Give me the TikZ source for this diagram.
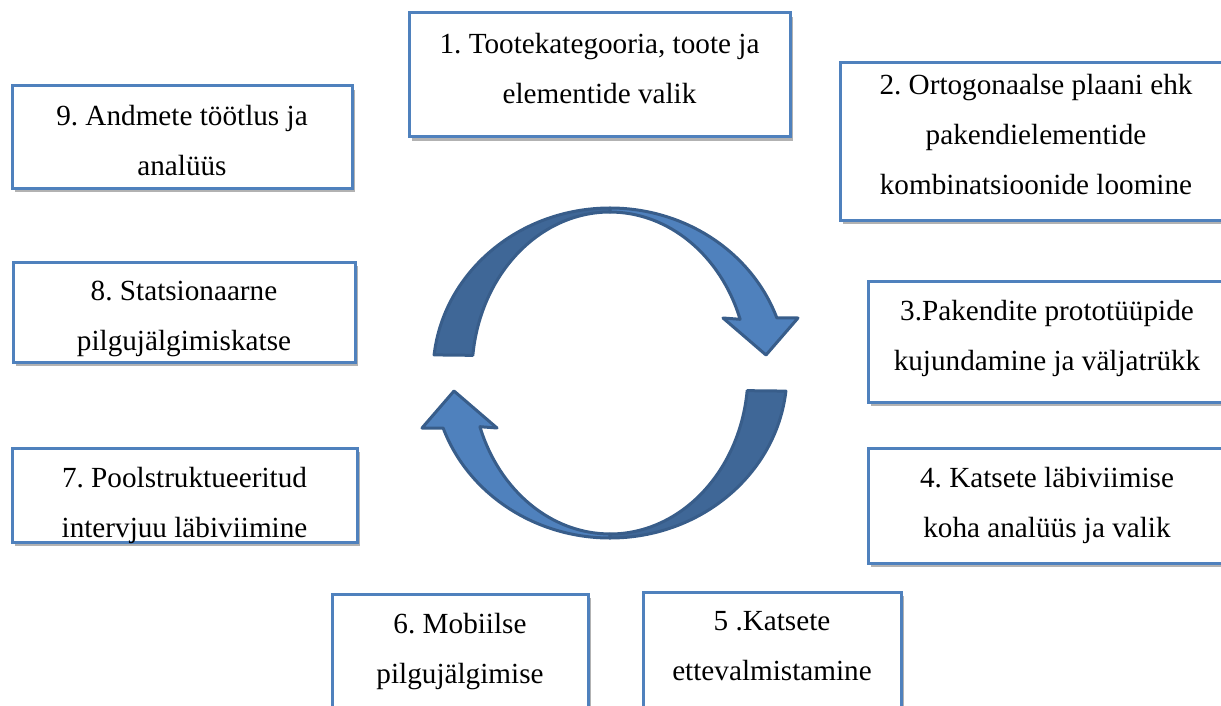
\documentclass[tikz,border=0pt]{standalone}
\usepackage{fontspec}
\setmainfont{Liberation Serif}
\usetikzlibrary{positioning,shadows}
\frenchspacing
\definecolor{boxblue}{HTML}{4F81BD}
\definecolor{arrowdark}{HTML}{3F6797}
\definecolor{arrowlight}{HTML}{4F81BD}
\definecolor{arrowline}{HTML}{385D8A}
\tikzset{
    stagebox/.style={
        draw=boxblue,
        line width=1.5pt,
        fill=white,
        inner sep=0pt,
        drop shadow={shadow xshift=1.5pt, shadow yshift=-2pt, opacity=0.3, fill=black}
    },
    stagetext/.style={
        align=center,
        inner sep=0pt,
        font=\fontsize{14.6}{25}\selectfont
    },
    arrowpart/.style={draw=arrowline, line width=1.5pt, line join=round},
}

\begin{document}
\begin{tikzpicture}[x=0.5pt, y=-0.5pt]
\useasboundingbox (0,0) rectangle (1221,706);
\clip (0,0) rectangle (1221,706);

% The two curved arrows of the cycle
\foreach \turn in {0,180} {
  \begin{scope}[rotate around={\turn:(610,373)}]
    \filldraw[arrowpart, fill=arrowdark] (434.1,354.9)
        arc[start angle=186.3, end angle=270, x radius=177, y radius=165]
        -- (610,212)
        arc[start angle=270, end angle=186.3, x radius=138, y radius=161] -- cycle;
    \filldraw[arrowpart, fill=arrowlight] (610,208)
        arc[start angle=270, end angle=340.5, x radius=177, y radius=165]
        -- (798,318) -- (766,355) -- (723,318) -- (740.1,319.3)
        arc[start angle=340.5, end angle=270, x radius=138, y radius=161] -- cycle;
  \end{scope}
}

% The nine boxes
\node[stagebox, minimum width=190.5pt, minimum height=62pt] (one) at (599.5,75) {};
\node[stagetext, below=10.5pt of one.north] (onetext) {1. Tootekategooria, toote ja\\elementide valik};

\node[stagebox, minimum width=196pt, minimum height=78.5pt] (two) at (1036,141.5) {};
\node[stagetext, below=6pt of two.north] (twotext) {2. Ortogonaalse plaani ehk\\pakendielementide\\kombinatsioonide loomine};

\node[stagebox, minimum width=179pt, minimum height=60.5pt] (three) at (1047,341.5) {};
\node[stagetext, below=10pt of three.north] (threetext) {3.Pakendite prototüüpide\\kujundamine ja väljatrükk};

\node[stagebox, minimum width=179pt, minimum height=57.5pt] (four) at (1047,505.5) {};
\node[stagetext, below=10pt of four.north] (fourtext) {4. Katsete läbiviimise\\koha analüüs ja valik};

\node[stagebox, minimum width=129pt, minimum height=84pt] (five) at (772,676) {};
\node[stagetext, below=10pt of five.north] (fivetext) {5 .Katsete\\ettevalmistamine};

\node[stagebox, minimum width=128pt, minimum height=83pt] (six) at (460,677) {};
\node[stagetext, below=10pt of six.north] (sixtext) {6. Mobiilse\\pilgujälgimise};

\node[stagebox, minimum width=172.5pt, minimum height=47pt] (seven) at (184.5,495) {};
\node[stagetext, below=10pt of seven.north] (seventext) {7. Poolstruktueeritud\\intervjuu läbiviimine};

\node[stagebox, minimum width=171pt, minimum height=50pt] (eight) at (184,312) {};
\node[stagetext, below=10pt of eight.north] (eighttext) {8. Statsionaarne\\pilgujälgimiskatse};

\node[stagebox, minimum width=170pt, minimum height=51pt] (nine) at (182,137) {};
\node[stagetext, below=10pt of nine.north] (ninetext) {9. Andmete töötlus ja\\analüüs};
\end{tikzpicture}
\end{document}
